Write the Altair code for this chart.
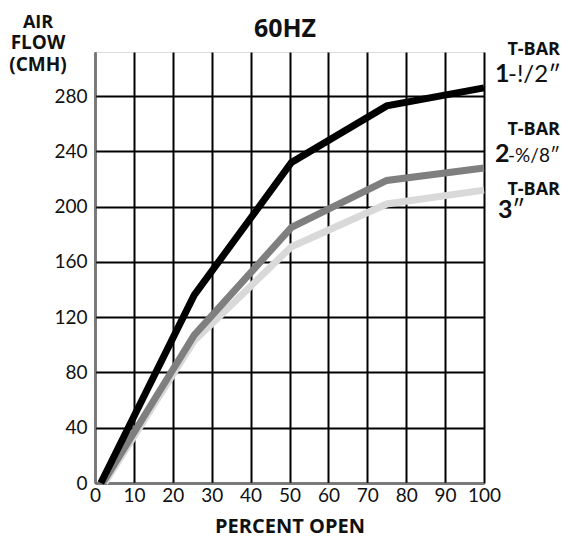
import altair as alt
import pandas as pd

# ---- data ----
pct_black = [1.5, 25.5, 50.5, 75, 100]
flow_black = [0, 136, 232, 273, 286]
pct_dark = [2, 25.5, 50.5, 75, 100]
flow_dark = [0, 107, 185, 219, 228]
pct_light = [2.5, 25.5, 50.5, 75, 100]
flow_light = [0, 103, 171, 202, 212]
series = ["T-BAR 3\"", "T-BAR 2-5/8\"", "T-BAR 1-1/2\""]
colors = ["#d9d9d9", "#7f7f7f", "#000000"]
x_ticks = [0, 10, 20, 30, 40, 50, 60, 70, 80, 90, 100]
y_ticks = [0, 40, 80, 120, 160, 200, 240, 280]

rows = []
for name, xs, ys in [(series[0], pct_light, flow_light),
                     (series[1], pct_dark, flow_dark),
                     (series[2], pct_black, flow_black)]:
    for i, (a, b) in enumerate(zip(xs, ys)):
        rows.append({"series": name, "pct": a, "flow": b, "order": i})
df = pd.DataFrame(rows)

W, H = 389, 431
FONT = "Lato"
BOLD = "Open Sans"

xs = alt.X("pct:Q", scale=alt.Scale(domain=[0, 100], nice=False),
           axis=alt.Axis(values=x_ticks, title="PERCENT OPEN", grid=True,
                         gridColor="#000", gridWidth=2, ticks=False,
                         domainColor="#777", domainWidth=1.5,
                         labelFontSize=19, labelFont=FONT, labelColor="#111",
                         labelPadding=3, labelFlush=False,
                         titleFontSize=20, titleFont=BOLD, titleFontWeight="bold",
                         titleColor="#111", titlePadding=11))
ys = alt.Y("flow:Q", scale=alt.Scale(domain=[0, 312], nice=False),
           axis=alt.Axis(values=y_ticks, title=None, grid=True,
                         gridColor="#000", gridWidth=2, ticks=False,
                         domainColor="#777", domainWidth=1.5,
                         labelFontSize=19, labelFont=FONT, labelColor="#111",
                         labelPadding=8, labelFlush=False))

lines = alt.Chart(df).mark_line(strokeWidth=7, strokeJoin="miter", strokeCap="butt", clip=False).encode(
    x=xs, y=ys,
    color=alt.Color("series:N", scale=alt.Scale(domain=series, range=colors), legend=None),
    order="order:Q",
    detail="series:N",
)

def txt(text, x, y, size, weight="normal", align="left", font=FONT):
    return alt.Chart(pd.DataFrame({"t": [text]})).mark_text(
        fontSize=size, fontWeight=weight, align=align, baseline="alphabetic",
        font=font, color="#111").encode(
        x=alt.value(x), y=alt.value(y), text="t:N")

annots = [
    txt("AIR", -57, -24, 18, "bold", "center", BOLD),
    txt("FLOW", -57, -3, 19, "bold", "center", BOLD),
    txt("(CMH)", -57, 19, 19, "bold", "center", BOLD),
    txt("60HZ", 190, -15, 25, "bold", "center", BOLD),
    txt("T-BAR", 465, 3, 18, "bold", "right", BOLD),
    txt("1", 400, 30, 25, "bold"),
    txt("-!/2\u2033", 413, 30, 24, "normal"),
    txt("T-BAR", 465, 83, 18, "bold", "right", BOLD),
    txt("2", 400, 110, 25, "bold"),
    txt("-%/8\u2033", 413, 110, 19, "normal"),
    txt("T-BAR", 465, 143, 18, "bold", "right", BOLD),
    txt("3", 403, 166, 25, "bold"),
    txt("\u2033", 417, 166, 25, "normal"),
]

chart = alt.layer(lines, *annots).properties(
    width=W, height=H,
    autosize=alt.AutoSizeParams(type="none"),
    padding={"left": 87, "top": 44, "right": 77, "bottom": 54},
).configure_view(stroke="#333", strokeWidth=1.5).configure(background="white")

chart.save("out.html", embed_options={"renderer": "svg", "actions": False})
